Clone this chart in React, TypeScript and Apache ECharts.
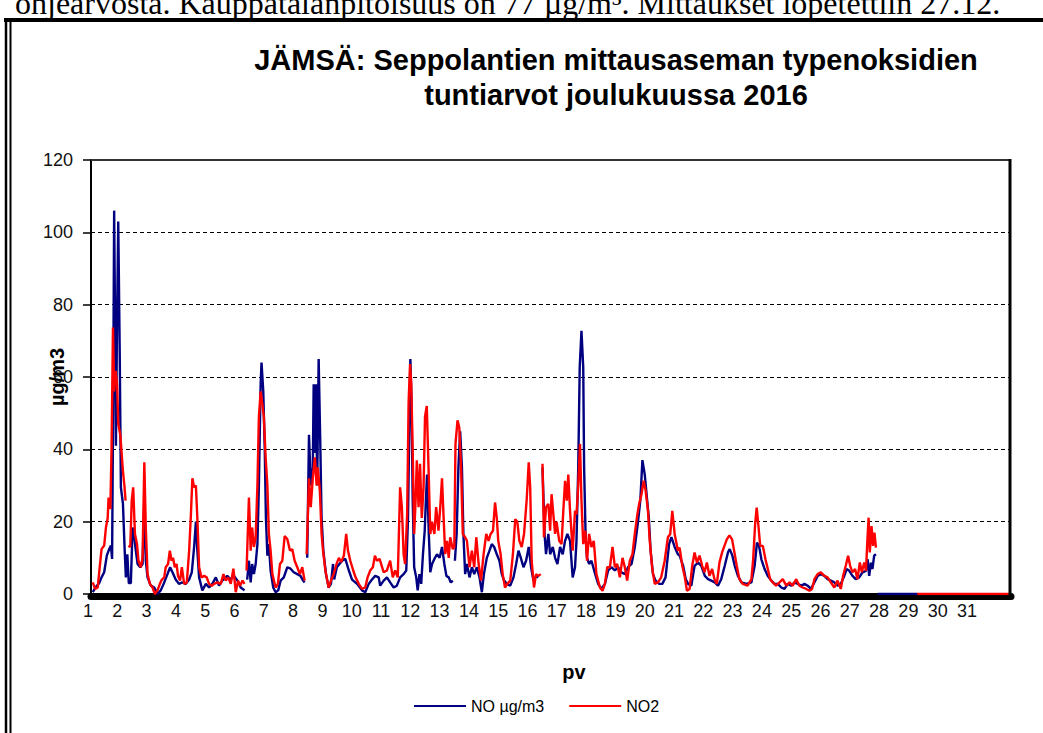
import React, { useEffect, useRef } from 'react';
import * as echarts from 'echarts';

// Hourly values: [day of December, value µg/m3]; '-' marks a gap
const noPoints: any[] = [
  [1.06,0.5],[1.17,2],[1.28,3],[1.36,4.6],[1.45,6],[1.54,10.6],[1.62,12.4],[1.68,13.4],[1.72,9.7],[1.76,58],[1.79,106],[1.83,67],[1.85,41],[1.89,76],[1.93,103],[1.98,67],[2.02,29.5],[2.09,25],[2.15,12],[2.19,4.6],[2.24,11],[2.29,3],[2.36,3],[2.42,18.4],[2.48,15.7],[2.53,12],[2.59,8.3],[2.68,7.4],[2.76,8.3],[2.82,25.8],[2.87,9.2],[2.93,4.6],[3.04,2.3],[3.16,1.8],[3.27,0],[3.38,1],[3.5,3.2],[3.61,5.5],[3.7,7.4],[3.78,6],[3.89,4],[4.0,2.8],[4.12,3.2],[4.23,2.8],[4.35,4],[4.44,6],[4.52,13],[4.58,20],[4.63,12],[4.69,4.6],[4.8,1],[4.92,2.8],[5.03,1.8],[5.14,2.8],[5.26,4.6],[5.37,2.3],[5.48,3.7],[5.65,5],[5.77,4],[5.88,5],[6.0,3.7],[6.11,1.8],[6.24,1],
  [6.29,'-'],
  [6.33,4],[6.39,9.2],[6.45,3.2],[6.5,8.3],[6.56,5.5],[6.62,8.3],[6.68,13.8],[6.73,30],[6.79,58],[6.82,64],[6.88,56],[6.93,40],[6.97,21],[7.02,10.6],[7.07,13.8],[7.13,6.5],[7.22,1.8],[7.3,0.5],[7.39,1],[7.47,3.7],[7.58,4.6],[7.7,7.4],[7.81,7],[7.92,6],[8.04,5.5],[8.15,5],[8.24,3.7],[8.29,3.2],
  [8.33,'-'],
  [8.38,10],[8.44,44],[8.5,30],[8.57,35],[8.6,58],[8.66,39],[8.68,58],[8.72,30],[8.77,65],[8.82,44],[8.87,21],[8.93,12],[9.02,5.5],[9.11,1.8],[9.19,2.8],[9.26,8.3],[9.3,4],[9.39,7.4],[9.48,8.3],[9.57,9.2],[9.68,9.7],[9.8,6.5],[9.91,4],[10.08,2.8],[10.25,1],[10.36,0.5],[10.48,2.8],[10.59,4],[10.7,5],[10.82,4.6],
  [10.87,2.3],[10.99,3.7],[11.1,4.6],[11.21,3.2],[11.33,1.8],[11.44,2.3],[11.55,4.6],[11.67,5.5],[11.76,6.5],[11.82,21],[11.86,44],[11.9,65],[11.94,53],[11.98,26],[12.03,7.4],[12.1,4.6],[12.15,1],[12.21,5.5],[12.27,2.8],[12.33,11],[12.39,17.5],[12.43,26],[12.47,33],[12.53,16.6],[12.58,6],[12.64,8.3],[12.72,9.7],[12.81,11],[12.9,10],[12.98,13],[13.06,8.3],[13.13,5],[13.21,4.6],[13.28,3.2],[13.35,3.7],
  [13.39,'-'],
  [13.42,9.2],[13.48,16.6],[13.54,35],[13.6,45],[13.66,35],[13.71,16.6],[13.77,5.5],[13.83,8.3],[13.92,4.6],[14.0,7.4],[14.08,5.5],[14.17,7.4],[14.26,4.6],[14.34,0.5],[14.41,5.5],[14.51,10],[14.6,12],[14.68,13.8],[14.76,13],[14.85,11],[14.94,9.2],[15.02,5.5],[15.1,3.7],[15.19,2.8],[15.31,2.3],
  [15.42,4.6],[15.51,8.3],[15.59,12],[15.67,10],[15.76,7.4],[15.85,9.2],[15.94,13],[16.02,7.4],[16.1,3.7],[16.19,5],[16.27,4.6],
  [16.34,'-'],
  [16.41,35],[16.48,16.6],[16.53,11],[16.61,16.6],[16.67,11],[16.76,13],[16.84,10],[16.92,8.3],[17.01,13],[17.1,11],[17.18,14.7],[17.26,16.6],[17.35,14.7],[17.44,4.6],[17.52,7.4],[17.57,14.7],[17.63,35],[17.68,62.7],[17.74,72.8],[17.8,62.7],[17.83,35],[17.88,16.6],[17.93,10],[18.0,8.3],[18.08,9.2],[18.19,6],[18.31,2.8],[18.42,1.4],[18.54,2.8],[18.65,6.5],[18.76,7.4],[18.88,6.5],[18.99,7.4],[19.1,6],[19.22,5.5],[19.33,7.4],[19.45,8.3],[19.56,13],[19.67,20],[19.75,26],[19.82,37],[19.9,33],[19.98,26],[20.04,21],[20.1,12],[20.18,5.5],[20.27,3.7],[20.39,2.8],[20.5,2.8],[20.61,4.6],[20.73,13.8],[20.81,15.7],[20.92,13],[21.03,11],
  [21.09,10.6],[21.21,7.8],[21.3,4.1],[21.38,2.8],[21.49,2.3],[21.6,7.8],[21.72,8.7],[21.83,7.8],[21.95,5],[22.06,4.1],[22.17,3.7],[22.29,3.2],[22.4,2.3],[22.51,4.1],[22.63,7.8],[22.74,11.5],[22.8,12.4],[22.89,10.6],[22.97,7.8],[23.08,5],[23.2,3.2],[23.37,2.8],[23.54,3.2],[23.65,7.8],[23.73,14.2],[23.8,13.3],[23.88,9.6],[23.99,6.9],[24.1,5],[24.22,3.7],[24.33,2.8],[24.44,2.8],[24.56,1.8],[24.67,1.4],[24.78,2.8],[24.9,2.3],[25.01,3.2],[25.12,2.8],[25.24,2.3],[25.35,2.8],[25.46,2.3],[25.57,1.4],[25.69,3.2],[25.8,5],[25.91,5.5],[26.03,5],[26.14,4.1],[26.25,3.7],[26.37,3.2],[26.48,2.3],[26.59,2.8],[26.71,5],[26.79,6.9],[26.88,6.4],[26.99,5],[27.1,4.1],[27.22,4.6],[27.33,6],[27.45,6.4],[27.51,9.6],[27.56,5],[27.62,8.7],[27.67,6.9],[27.73,10.6],[27.79,11],
  [27.82,'-'],
  [27.85,0],[29.2,0]
];

const no2Points: any[] = [
  [1.06,3.2],[1.14,1.4],[1.23,1.8],[1.28,6],[1.36,12.4],[1.45,13.4],[1.51,18.4],[1.57,21],[1.6,26.7],[1.66,23.5],[1.7,39.6],[1.75,73.7],[1.79,56],[1.84,61.7],[1.89,58],[1.93,47],[2.0,44],[2.04,39.6],[2.09,34],[2.14,30],[2.18,25.8],
  [2.23,'-'],
  [2.28,13.4],[2.34,13],[2.39,25.8],[2.44,29.5],[2.5,16.6],[2.57,13.8],[2.62,9.2],[2.7,7.4],[2.76,10],[2.82,36.4],[2.87,18.4],[2.93,5.5],[3.01,2.8],[3.1,1.8],[3.18,0],[3.27,1],[3.35,2.8],[3.42,4],[3.5,4.6],[3.55,7.4],[3.63,8.3],[3.69,12],[3.75,9.2],[3.8,10],[3.86,7.4],[3.92,8.3],[3.97,5],[4.04,3.7],[4.1,7.4],[4.18,2.8],[4.27,3.2],[4.35,12],[4.41,22],[4.46,32],[4.52,29.5],[4.58,30],[4.63,21],[4.69,7.4],[4.77,4.6],[4.86,5],[4.95,4.6],[5.03,2.8],[5.12,2.3],[5.2,2.8],[5.31,3.2],[5.43,2.8],[5.52,5.5],[5.6,3.7],[5.68,4.6],[5.77,2.8],[5.86,7],[5.94,0.5],[6.02,3.7],[6.09,2.3],[6.17,3.7],[6.24,2.8],
  [6.28,'-'],
  [6.31,6.5],[6.39,26.7],[6.45,12],[6.5,18.4],[6.56,13],[6.62,15.7],[6.68,30],[6.73,49],[6.79,56],[6.84,53],[6.9,49],[6.96,37.8],[7.02,30],[7.07,16.6],[7.13,12],[7.19,5.5],[7.3,1.8],[7.38,2.8],[7.45,8.3],[7.53,9.2],[7.61,16],[7.7,15.2],[7.79,12],[7.87,12.4],[7.95,9.2],[8.04,7.4],[8.13,5.5],[8.21,7.4],[8.29,3.7],
  [8.32,'-'],
  [8.36,11],[8.44,32],[8.5,24],[8.57,32],[8.64,37.8],[8.7,30],[8.74,35],[8.81,28.6],[8.87,16.6],[8.92,12],[9.0,6.5],[9.11,1.8],[9.19,3.7],[9.28,5.5],[9.38,8.3],[9.46,10],[9.54,8.8],[9.63,10.6],[9.71,16.6],[9.77,12],[9.85,9.2],[9.95,6.5],[10.03,4.6],[10.14,2.8],[10.25,1.4],[10.36,1.8],[10.44,4.6],[10.53,6.5],[10.62,7.4],[10.69,10.6],[10.76,9.2],[10.85,9.7],
  [10.99,6],[11.1,6.5],[11.21,9.2],[11.3,4.6],[11.38,6.5],[11.47,4.6],[11.55,29.5],[11.61,24],[11.67,11],[11.72,8.3],[11.79,22],[11.84,53],[11.89,63.6],[11.93,58],[11.98,39.6],[12.03,16.6],[12.08,26],[12.12,37],[12.18,24],[12.23,36],[12.29,21],[12.35,29.5],[12.4,49],[12.46,52],[12.52,35],[12.58,16.6],[12.64,20],[12.72,16.6],[12.78,24],[12.86,17.5],[12.92,24],[12.98,32],[13.03,22],[13.09,11],[13.15,14.7],[13.21,10],[13.26,15.7],[13.35,12.4],[13.4,13],[13.44,41.5],[13.51,48],[13.57,46],[13.63,35],[13.69,16.6],[13.77,15.7],[13.83,14.7],[13.92,7.4],[14.0,12],[14.08,7.4],[14.15,15.7],[14.23,8.3],[14.31,3.7],[14.4,11],[14.49,16.6],[14.57,14.7],[14.64,16.6],[14.72,17.5],[14.79,25.3],[14.85,21],[14.9,14.7],[14.98,11],[15.05,5.5],[15.13,1.8],[15.21,2.8],[15.31,3.7],
  [15.4,11],[15.48,20.7],[15.55,20],[15.62,14.7],[15.7,13],[15.78,16.6],[15.87,26],[15.94,36.4],[15.99,29.5],[16.04,9.2],[16.12,1.8],[16.19,5.5],[16.27,5],[16.35,5.5],
  [16.38,'-'],
  [16.41,36],[16.46,15.7],[16.53,24],[16.61,24.9],[16.67,17.5],[16.72,27.6],[16.78,22],[16.84,16.6],[16.89,20],[16.98,14.7],[17.06,13.8],[17.12,23],[17.18,31.3],[17.24,25.8],[17.29,33],[17.35,23],[17.44,12],[17.52,23],[17.57,22],[17.63,30],[17.69,41.5],[17.74,25.8],[17.8,13.8],[17.87,17.5],[17.93,9.2],[18.0,16.6],[18.08,13],[18.16,14.7],[18.25,5.5],[18.37,1.8],[18.46,0.9],[18.54,2.8],[18.62,7.4],[18.71,7.4],[18.8,13],[18.88,7.4],[18.96,8.3],[19.05,4.6],[19.14,10],[19.22,7.4],[19.3,3.7],[19.39,9.2],[19.48,11],[19.56,16.6],[19.64,21.6],[19.71,25],[19.79,27.6],[19.86,31.3],[19.93,28.6],[20.01,23],[20.07,14.7],[20.15,7.4],[20.24,2.8],[20.35,3.2],[20.46,4.6],[20.58,9.2],[20.69,15.7],[20.77,16.6],[20.84,23],[20.92,16.6],[21.03,12],
  [21.09,12.8],[21.18,7.8],[21.26,5],[21.34,0.9],[21.43,1.4],[21.52,7.8],[21.6,11.5],[21.68,8.7],[21.77,10.6],[21.86,7.8],[21.94,6],[22.02,8.7],[22.11,5],[22.2,6.9],[22.28,4.1],[22.36,2.8],[22.45,8.7],[22.54,11.5],[22.62,13.3],[22.7,15.1],[22.79,16.2],[22.88,15.1],[22.96,11.5],[23.04,7.8],[23.13,4.1],[23.24,2.8],[23.41,2.3],[23.54,4.1],[23.6,9.6],[23.67,19.7],[23.72,23.9],[23.78,18.8],[23.84,13.3],[23.93,13.3],[24.02,9.6],[24.1,6.9],[24.18,4.1],[24.27,3.2],[24.38,2.3],[24.5,3.2],[24.61,4.1],[24.73,2.3],[24.84,3.2],[24.95,2.3],[25.07,4.1],[25.18,2.3],[25.29,1.8],[25.41,1.4],[25.52,0.9],[25.61,1.4],[25.69,4.1],[25.8,5.5],[25.91,6],[26.03,5],[26.14,4.6],[26.25,3.2],[26.37,1.8],[26.48,3.7],[26.59,1.4],[26.67,5],[26.76,7.8],[26.84,10.6],[26.91,7.8],[26.99,6],[27.08,6.9],[27.16,4.1],[27.24,8.7],[27.31,6],[27.39,8.7],[27.45,6.4],[27.5,15.1],[27.54,21.1],[27.58,11.5],[27.64,18.8],[27.69,13.3],[27.74,17],[27.79,12.8],
  [28.5,'-'],
  [29.2,0],[32.4,0]
];

const yTicks = [0, 20, 40, 60, 80, 100, 120];
const dayLabels = Array.from({ length: 31 }, (_, i) => String(i + 1));
const seriesNames = ['NO µg/m3', 'NO2'];
const titleLines = ['JÄMSÄ: Seppolantien mittausaseman typenoksidien', 'tuntiarvot joulukuussa 2016'];
const topText = 'ohjearvosta. Kauppatalanpitoisuus on 77 µg/m³. Mittaukset lopetettiin 27.12.';

const FONT = '"Liberation Sans", Arial, sans-serif';

export default function App() {
  const ref = useRef<HTMLDivElement>(null);
  useEffect(() => {
    const chart = echarts.init(ref.current!, null, { renderer: 'svg' });
    chart.setOption({
      animation: false,
      backgroundColor: '#fff',
      grid: { left: 91, top: 160, right: 32, bottom: 139, containLabel: false },
      legend: {
        data: seriesNames,
        left: 409,
        top: 693,
        icon: 'rect',
        itemWidth: 52,
        itemHeight: 2,
        itemGap: 25,
        textStyle: { fontFamily: FONT, fontSize: 16, color: '#000' },
      },
      xAxis: {
        type: 'value',
        min: 1,
        max: 32.4,
        interval: 1,
        offset: 2.5,
        axisLine: { show: true, onZero: false, lineStyle: { color: '#000', width: 7 } },
        axisTick: { show: false },
        splitLine: { show: false },
        axisLabel: {
          fontFamily: FONT,
          fontSize: 18,
          color: '#111',
          margin: 5,
          padding: [0, 6, 0, 0],
          formatter: (v: number) => {
            const i = Math.round(v);
            return Math.abs(v - i) < 1e-6 && i >= 1 && i <= dayLabels.length ? dayLabels[i - 1] : '';
          },
        },
      },
      yAxis: {
        type: 'value',
        min: yTicks[0],
        max: yTicks[yTicks.length - 1],
        interval: 20,
        axisLine: { show: true, lineStyle: { color: '#000', width: 2 } },
        axisTick: { show: true, length: 8, lineStyle: { color: '#000', width: 1.5 } },
        axisLabel: { fontFamily: FONT, fontSize: 18, color: '#111', margin: 18 },
        splitLine: { show: true, lineStyle: { color: '#000', width: 1, type: [4, 3] } },
      },
      series: [
        {
          name: seriesNames[0],
          type: 'line',
          data: noPoints,
          showSymbol: false,
          symbol: 'none',
          connectNulls: false,
          lineStyle: { color: '#000080', width: 2.4 },
          itemStyle: { color: '#000080' },
        },
        {
          name: seriesNames[1],
          type: 'line',
          data: no2Points,
          showSymbol: false,
          symbol: 'none',
          connectNulls: false,
          lineStyle: { color: '#ff0000', width: 2.4 },
          itemStyle: { color: '#ff0000' },
        },
      ],
      graphic: [
        { type: 'text', x: 15, y: 3, z: 10, style: { text: topText, font: '32px "Liberation Serif", serif', fill: '#000', verticalAlign: 'middle' } },
        { type: 'line', z: 10, shape: { x1: 4, y1: 20, x2: 1043, y2: 20 }, style: { stroke: '#000', lineWidth: 4 } },
        { type: 'line', z: 10, shape: { x1: 6, y1: 18, x2: 6, y2: 733 }, style: { stroke: '#000', lineWidth: 2.5 } },
        { type: 'line', z: 10, shape: { x1: 10.5, y1: 21, x2: 10.5, y2: 733 }, style: { stroke: '#000', lineWidth: 2 } },
        { type: 'line', z: 10, shape: { x1: 91, y1: 160, x2: 1011, y2: 160 }, style: { stroke: '#333', lineWidth: 2 } },
        { type: 'line', z: 10, shape: { x1: 1010, y1: 159, x2: 1010, y2: 600 }, style: { stroke: '#000', lineWidth: 3 } },
        { type: 'text', x: 616, y: 60, z: 10, style: { text: titleLines[0], font: `bold 29px ${FONT}`, fill: '#000', align: 'center', verticalAlign: 'middle' } },
        { type: 'text', x: 616, y: 95, z: 10, style: { text: titleLines[1], font: `bold 29px ${FONT}`, fill: '#000', align: 'center', verticalAlign: 'middle' } },
        { type: 'text', x: 574, y: 672, z: 10, style: { text: 'pv', font: `bold 20px ${FONT}`, fill: '#000', align: 'center', verticalAlign: 'middle' } },
        { type: 'text', x: 57, y: 377, z: 10, rotation: Math.PI / 2, style: { text: 'µg/m3', font: `bold 20px ${FONT}`, fill: '#000', align: 'center', verticalAlign: 'middle' } },
      ],
    });
    return () => chart.dispose();
  }, []);
  return (
    <div
      ref={ref}
      style={{ position: 'fixed', left: 0, top: 0, width: 1043, height: 733, background: '#fff' }}
    />
  );
}
